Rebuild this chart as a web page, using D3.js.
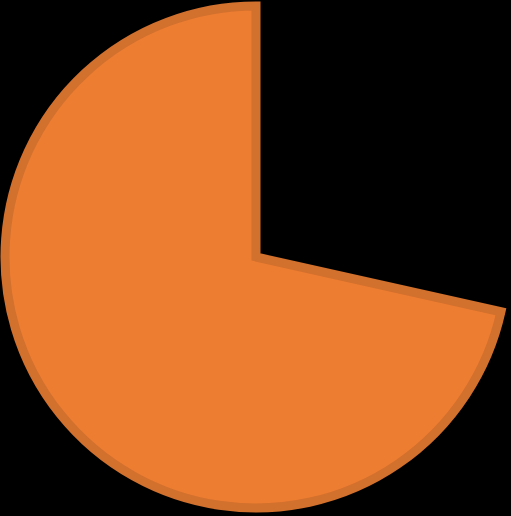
<!DOCTYPE html>
<html>
<head>
<meta charset="utf-8">
<script src="https://cdn.jsdelivr.net/npm/d3@7"></script>
<style>
  html, body { margin: 0; padding: 0; background: #000; overflow: hidden; }
</style>
</head>
<body>
<div id="pie"></div>
<script>
// Datos: la primera porción queda vacía (sin relleno)
const categorias = ["Resto", "Valor"];
const valores = [28.5, 71.5];
const colores = ["none", "#ED7D31"];

const width = 511, height = 516;
const cx = 256, cy = 257, radio = 251;

const svg = d3.select("#pie")
    .append("svg")
    .attr("width", width)
    .attr("height", height)
    .style("display", "block")
    .style("background", "#000");

const datos = categorias.map((c, i) => ({categoria: c, valor: valores[i], color: colores[i]}));

const pie = d3.pie()
    .sort(null)
    .value(d => d.valor);

const arco = d3.arc()
    .innerRadius(0)
    .outerRadius(radio);

const g = svg.append("g")
    .attr("transform", `translate(${cx},${cy})`);

g.selectAll("path")
    .data(pie(datos).filter(d => d.data.color !== "none"))
    .enter()
    .append("path")
    .attr("d", arco)
    .attr("fill", d => d.data.color)
    .attr("stroke", "#D2702D")
    .attr("stroke-width", 9)
    .attr("stroke-linejoin", "miter");
</script>
</body>
</html>
